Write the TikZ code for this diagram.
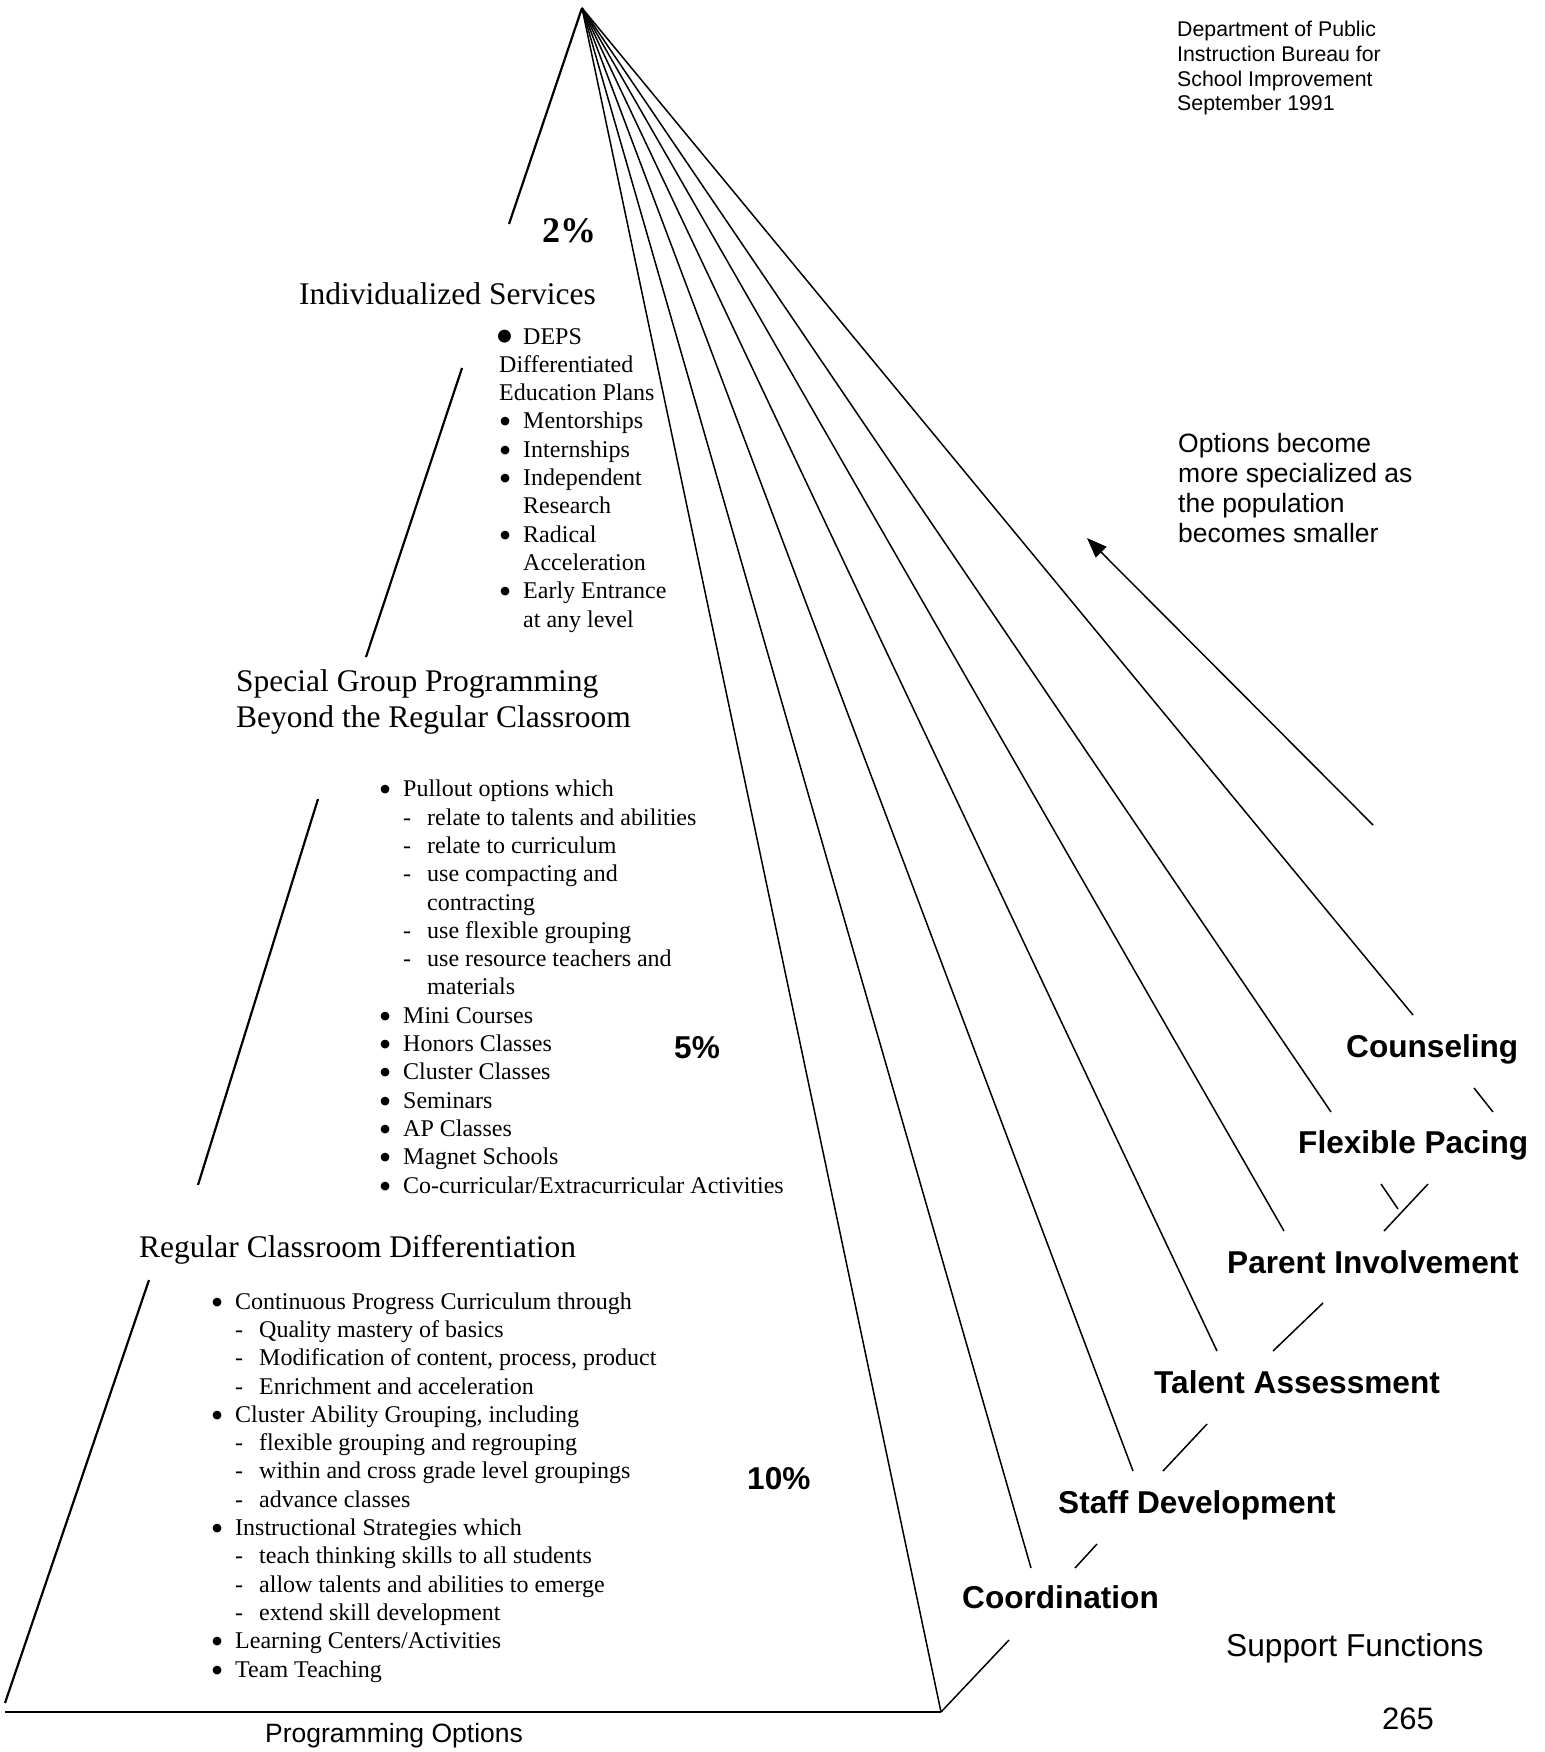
\documentclass[tikz,border=0pt]{standalone}
\usepackage{fontspec}
\setmainfont{Liberation Serif}
\setsansfont{Liberation Sans}
\usetikzlibrary{arrows.meta}

% list lines: bullet item, dash item, and their wrapped lines
\newcommand{\listdot}{\smash{\raisebox{-5pt}{\fontsize{36}{28}\selectfont\textbullet}}}
\newcommand{\listbigdot}{\smash{\raisebox{-10pt}{\fontsize{54}{28}\selectfont\textbullet}}}
\newcommand{\bitem}[1]{\makebox[36pt][c]{\listdot}#1}
\newcommand{\ditem}[1]{\hspace*{36pt}\makebox[24pt][l]{-}#1}
\newcommand{\bmore}[1]{\hspace*{36pt}#1}
\newcommand{\dmore}[1]{\hspace*{60pt}#1}

\begin{document}
\begin{tikzpicture}[x=1pt,y=-1pt,
    edge/.style={line width=2.2pt},
    fan/.style={line width=1.5pt},
    heading/.style={anchor=base west,inner sep=0pt,align=left,font=\fontsize{31.5}{36}\selectfont},
    listtext/.style={anchor=base west,inner sep=0pt,align=left,font=\fontsize{24}{28.3}\selectfont},
    support/.style={anchor=base west,inner sep=0pt,font=\sffamily\bfseries\fontsize{31.6}{36}\selectfont},
    note/.style={anchor=base west,inner sep=0pt,align=left,font=\sffamily\fontsize{26.5}{30}\selectfont}
  ]
  \useasboundingbox (0,0) rectangle (1544,1752);

  \coordinate (apex) at (582,8);
  \coordinate (bl) at (5,1712);
  \coordinate (br) at (941,1712);

  % front face
  \draw[edge] (bl) -- (br);
  \draw[edge] (apex) -- (509,224);
  \draw[edge] (462,368) -- (366,657);
  \draw[edge] (318,799) -- (198,1185);
  \draw[edge] (149,1280) -- (5,1703);
  \draw[fan] (apex) -- (br);

  % fan of support lines
  \foreach \x/\y in {1031/1568, 1133/1471, 1217/1351, 1284/1231, 1331/1112, 1413/1015}
    \draw[fan] (apex) -- (\x,\y);
  \draw[fan] (1381,1184) -- (1398,1209);
  \draw[fan] (1474,1088) -- (1493,1112);

  % back edge
  \draw[fan] (br) -- (1009,1640);
  \draw[fan] (1075,1568) -- (1097,1544);
  \draw[fan] (1163,1471) -- (1207,1424);
  \draw[fan] (1273,1351) -- (1323,1303);
  \draw[fan] (1384,1231) -- (1428,1184);

  \draw[fan,-{Triangle[length=20pt,width=15pt]}] (1373,825) -- (1087,538);

  % percentages
  \node[anchor=base west,inner sep=0pt,font=\bfseries\fontsize{36}{40}\selectfont] (pct2) at (542,243) {2\%};
  \node[support] (pct5) at (674,1058) {5\%};
  \node[support] (pct10) at (747,1489) {10\%};

  % levels (multi-line nodes sit on their last baseline)
  \node[heading] (indiv) at (299,305) {Individualized Services};
  \node[listtext] (indivlist) at (487,627) {\makebox[36pt][c]{\listbigdot}DEPS\\
    \hspace*{12pt}Differentiated\\
    \hspace*{12pt}Education Plans\\
    \bitem{Mentorships}\\
    \bitem{Internships}\\
    \bitem{Independent}\\
    \bmore{Research}\\
    \bitem{Radical}\\
    \bmore{Acceleration}\\
    \bitem{Early Entrance}\\
    \bmore{at any level}};

  \node[heading] (special) at (236,727) {Special Group Programming\\Beyond the Regular Classroom};
  \node[listtext] (speciallist) at (367,1193) {\bitem{Pullout options which}\\
    \ditem{relate to talents and abilities}\\
    \ditem{relate to curriculum}\\
    \ditem{use compacting and}\\
    \dmore{contracting}\\
    \ditem{use flexible grouping}\\
    \ditem{use resource teachers and}\\
    \dmore{materials}\\
    \bitem{Mini Courses}\\
    \bitem{Honors Classes}\\
    \bitem{Cluster Classes}\\
    \bitem{Seminars}\\
    \bitem{AP Classes}\\
    \bitem{Magnet Schools}\\
    \bitem{Co-curricular/Extracurricular Activities}};

  \node[heading] (regular) at (139,1257) {Regular Classroom Differentiation};
  \node[listtext] (regularlist) at (199,1677) {\bitem{Continuous Progress Curriculum through}\\
    \ditem{Quality mastery of basics}\\
    \ditem{Modification of content, process, product}\\
    \ditem{Enrichment and acceleration}\\
    \bitem{Cluster Ability Grouping, including}\\
    \ditem{flexible grouping and regrouping}\\
    \ditem{within and cross grade level groupings}\\
    \ditem{advance classes}\\
    \bitem{Instructional Strategies which}\\
    \ditem{teach thinking skills to all students}\\
    \ditem{allow talents and abilities to emerge}\\
    \ditem{extend skill development}\\
    \bitem{Learning Centers/Activities}\\
    \bitem{Team Teaching}};

  % support functions
  \node[support] (counsel) at (1346,1057) {Counseling};
  \node[support] (pacing) at (1298,1153) {Flexible Pacing};
  \node[support] (parent) at (1227,1273) {Parent Involvement};
  \node[support] (talent) at (1154,1393) {Talent Assessment};
  \node[support] (staff) at (1058,1513) {Staff Development};
  \node[support] (coord) at (962,1608) {Coordination};

  % captions
  \node[anchor=base west,inner sep=0pt,align=left,font=\sffamily\fontsize{21.3}{24.7}\selectfont] (dept) at (1177,111) {Department of Public\\Instruction Bureau for\\School Improvement\\September 1991};
  \node[note] (options) at (1178,542) {Options become\\more specialized as\\the population\\becomes smaller};
  \node[note] (progopt) at (265,1742) {Programming Options};
  \node[anchor=base west,inner sep=0pt,font=\sffamily\fontsize{31.7}{36}\selectfont] (supfun) at (1226,1656) {Support Functions};
  \node[anchor=base west,inner sep=0pt,font=\sffamily\fontsize{31}{36}\selectfont] (pagenum) at (1382,1729) {265};
\end{tikzpicture}
\end{document}
